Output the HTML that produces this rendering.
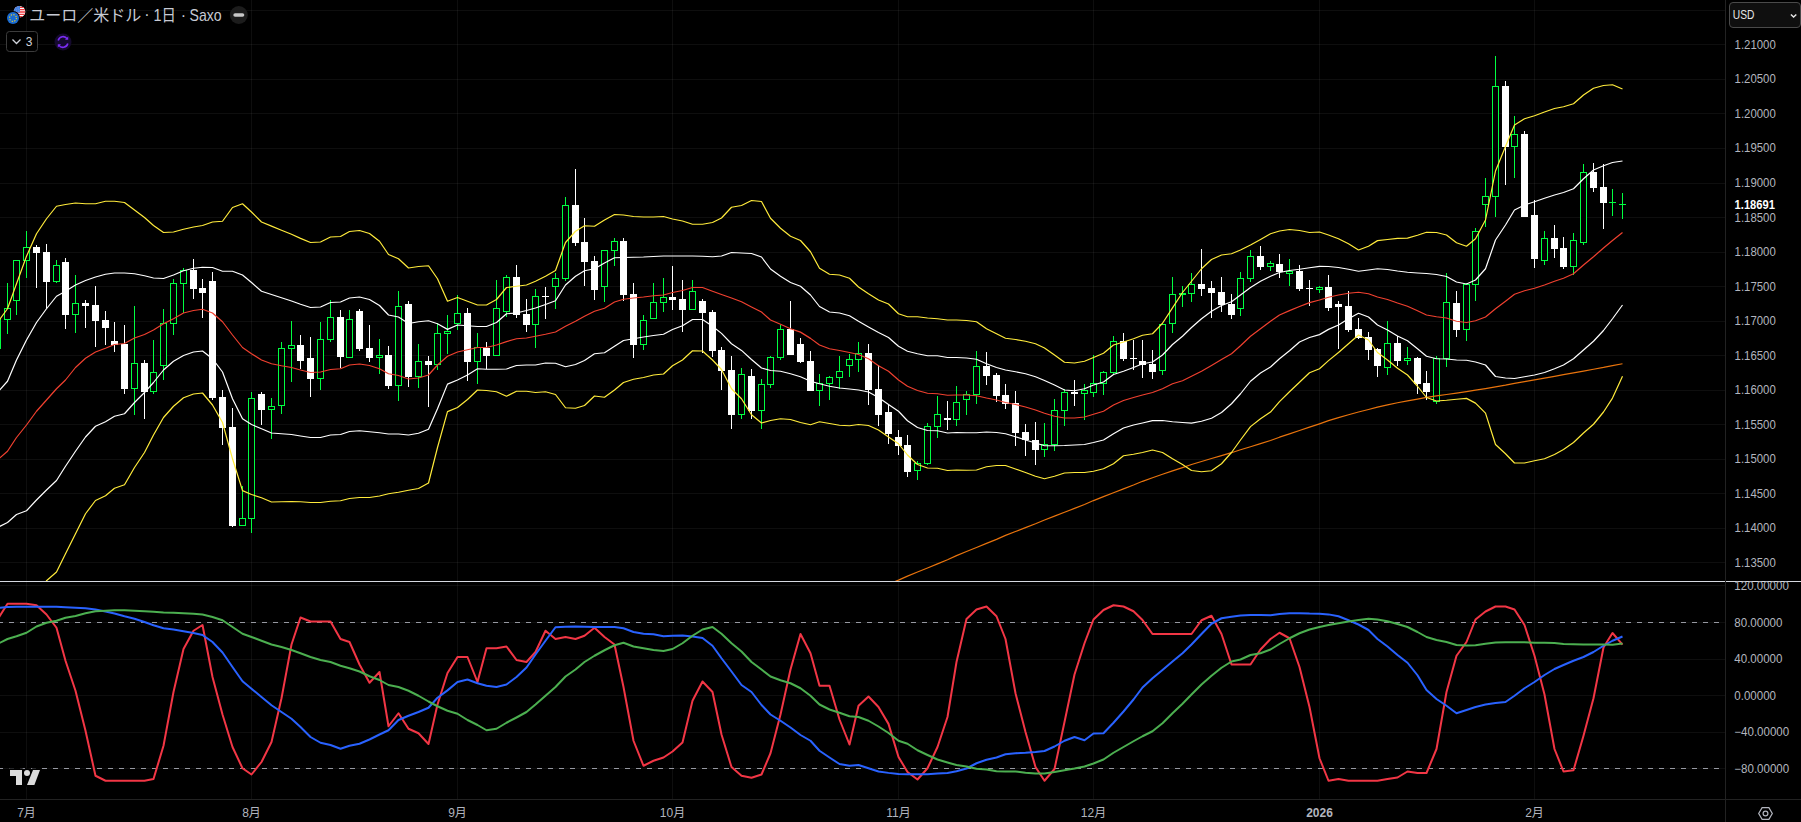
<!DOCTYPE html>
<html lang="ja"><head><meta charset="utf-8"><title>EURUSD</title>
<style>
html,body{margin:0;padding:0;background:#000;}
body{width:1801px;height:822px;overflow:hidden;position:relative;font-family:"Liberation Sans","Noto Sans CJK JP",sans-serif;}
svg{position:absolute;left:0;top:0;}
text{font-family:"Liberation Sans","Noto Sans CJK JP",sans-serif;}
</style></head><body>
<svg width="1801" height="822" viewBox="0 0 1801 822">
<defs>
<clipPath id="cm"><rect x="0" y="0" width="1725" height="581"/></clipPath>
<clipPath id="ci"><rect x="0" y="582" width="1725" height="217"/></clipPath>
</defs>
<rect width="1801" height="822" fill="#000"/>

<g shape-rendering="crispEdges" stroke="rgba(255,255,255,0.055)" stroke-width="1">
<line x1="0" y1="10.5" x2="1725" y2="10.5"/>
<line x1="0" y1="44.5" x2="1725" y2="44.5"/>
<line x1="0" y1="79.5" x2="1725" y2="79.5"/>
<line x1="0" y1="113.5" x2="1725" y2="113.5"/>
<line x1="0" y1="148.5" x2="1725" y2="148.5"/>
<line x1="0" y1="183.5" x2="1725" y2="183.5"/>
<line x1="0" y1="217.5" x2="1725" y2="217.5"/>
<line x1="0" y1="252.5" x2="1725" y2="252.5"/>
<line x1="0" y1="286.5" x2="1725" y2="286.5"/>
<line x1="0" y1="321.5" x2="1725" y2="321.5"/>
<line x1="0" y1="355.5" x2="1725" y2="355.5"/>
<line x1="0" y1="390.5" x2="1725" y2="390.5"/>
<line x1="0" y1="424.5" x2="1725" y2="424.5"/>
<line x1="0" y1="459.5" x2="1725" y2="459.5"/>
<line x1="0" y1="493.5" x2="1725" y2="493.5"/>
<line x1="0" y1="528.5" x2="1725" y2="528.5"/>
<line x1="0" y1="562.5" x2="1725" y2="562.5"/>
<line x1="26.5" y1="0" x2="26.5" y2="799"/>
<line x1="251.5" y1="0" x2="251.5" y2="799"/>
<line x1="457.5" y1="0" x2="457.5" y2="799"/>
<line x1="672.5" y1="0" x2="672.5" y2="799"/>
<line x1="898.5" y1="0" x2="898.5" y2="799"/>
<line x1="1093.5" y1="0" x2="1093.5" y2="799"/>
<line x1="1319.5" y1="0" x2="1319.5" y2="799"/>
<line x1="1534.5" y1="0" x2="1534.5" y2="799"/>
<line x1="0" y1="585.5" x2="1725" y2="585.5"/>
<line x1="0" y1="622.5" x2="1725" y2="622.5"/>
<line x1="0" y1="659.5" x2="1725" y2="659.5"/>
<line x1="0" y1="695.5" x2="1725" y2="695.5"/>
<line x1="0" y1="732.5" x2="1725" y2="732.5"/>
<line x1="0" y1="768.5" x2="1725" y2="768.5"/>
</g>
<g clip-path="url(#cm)" shape-rendering="crispEdges">
<rect x="-6.0" y="319" width="7" height="30" fill="#00ff41"/>
<rect x="-5.0" y="320" width="5" height="28" fill="#000"/>
<rect x="7.0" y="283" width="1" height="25" fill="#00ff41"/>
<rect x="7.0" y="320" width="1" height="14" fill="#00ff41"/>
<rect x="4.0" y="308" width="7" height="12" fill="#00ff41"/>
<rect x="5.0" y="309" width="5" height="10" fill="#000"/>
<rect x="16.0" y="301" width="1" height="14" fill="#00ff41"/>
<rect x="13.0" y="260" width="7" height="41" fill="#00ff41"/>
<rect x="14.0" y="261" width="5" height="39" fill="#000"/>
<rect x="26.0" y="231" width="1" height="16" fill="#00ff41"/>
<rect x="26.0" y="261" width="1" height="17" fill="#00ff41"/>
<rect x="23.0" y="247" width="7" height="14" fill="#00ff41"/>
<rect x="24.0" y="248" width="5" height="12" fill="#000"/>
<rect x="36.0" y="245" width="1" height="43" fill="#ffffff"/>
<rect x="33.0" y="247" width="7" height="6" fill="#ffffff"/>
<rect x="46.0" y="244" width="1" height="65" fill="#ffffff"/>
<rect x="43.0" y="252" width="7" height="30" fill="#ffffff"/>
<rect x="56.0" y="260" width="1" height="5" fill="#00ff41"/>
<rect x="56.0" y="282" width="1" height="1" fill="#00ff41"/>
<rect x="53.0" y="265" width="7" height="17" fill="#00ff41"/>
<rect x="54.0" y="266" width="5" height="15" fill="#000"/>
<rect x="65.0" y="258" width="1" height="71" fill="#ffffff"/>
<rect x="62.0" y="262" width="7" height="53" fill="#ffffff"/>
<rect x="75.0" y="275" width="1" height="28" fill="#00ff41"/>
<rect x="75.0" y="315" width="1" height="18" fill="#00ff41"/>
<rect x="72.0" y="303" width="7" height="12" fill="#00ff41"/>
<rect x="73.0" y="304" width="5" height="10" fill="#000"/>
<rect x="85.0" y="300" width="1" height="28" fill="#ffffff"/>
<rect x="82.0" y="303" width="7" height="3" fill="#ffffff"/>
<rect x="95.0" y="286" width="1" height="61" fill="#ffffff"/>
<rect x="92.0" y="305" width="7" height="16" fill="#ffffff"/>
<rect x="105.0" y="311" width="1" height="34" fill="#ffffff"/>
<rect x="102.0" y="320" width="7" height="8" fill="#ffffff"/>
<rect x="114.0" y="322" width="1" height="30" fill="#ffffff"/>
<rect x="111.0" y="341" width="7" height="4" fill="#ffffff"/>
<rect x="124.0" y="325" width="1" height="69" fill="#ffffff"/>
<rect x="121.0" y="344" width="7" height="45" fill="#ffffff"/>
<rect x="134.0" y="306" width="1" height="57" fill="#00ff41"/>
<rect x="134.0" y="389" width="1" height="26" fill="#00ff41"/>
<rect x="131.0" y="363" width="7" height="26" fill="#00ff41"/>
<rect x="132.0" y="364" width="5" height="24" fill="#000"/>
<rect x="144.0" y="360" width="1" height="59" fill="#ffffff"/>
<rect x="141.0" y="363" width="7" height="29" fill="#ffffff"/>
<rect x="153.0" y="340" width="1" height="32" fill="#00ff41"/>
<rect x="153.0" y="392" width="1" height="2" fill="#00ff41"/>
<rect x="150.0" y="372" width="7" height="20" fill="#00ff41"/>
<rect x="151.0" y="373" width="5" height="18" fill="#000"/>
<rect x="163.0" y="309" width="1" height="14" fill="#00ff41"/>
<rect x="163.0" y="366" width="1" height="14" fill="#00ff41"/>
<rect x="160.0" y="323" width="7" height="43" fill="#00ff41"/>
<rect x="161.0" y="324" width="5" height="41" fill="#000"/>
<rect x="173.0" y="279" width="1" height="4" fill="#00ff41"/>
<rect x="173.0" y="324" width="1" height="11" fill="#00ff41"/>
<rect x="170.0" y="283" width="7" height="41" fill="#00ff41"/>
<rect x="171.0" y="284" width="5" height="39" fill="#000"/>
<rect x="183.0" y="268" width="1" height="2" fill="#00ff41"/>
<rect x="183.0" y="284" width="1" height="29" fill="#00ff41"/>
<rect x="180.0" y="270" width="7" height="14" fill="#00ff41"/>
<rect x="181.0" y="271" width="5" height="12" fill="#000"/>
<rect x="193.0" y="259" width="1" height="40" fill="#ffffff"/>
<rect x="190.0" y="270" width="7" height="19" fill="#ffffff"/>
<rect x="202.0" y="279" width="1" height="39" fill="#ffffff"/>
<rect x="199.0" y="288" width="7" height="5" fill="#ffffff"/>
<rect x="212.0" y="272" width="1" height="128" fill="#ffffff"/>
<rect x="209.0" y="281" width="7" height="117" fill="#ffffff"/>
<rect x="222.0" y="390" width="1" height="55" fill="#ffffff"/>
<rect x="219.0" y="397" width="7" height="31" fill="#ffffff"/>
<rect x="232.0" y="408" width="1" height="119" fill="#ffffff"/>
<rect x="229.0" y="427" width="7" height="99" fill="#ffffff"/>
<rect x="242.0" y="486" width="1" height="32" fill="#00ff41"/>
<rect x="239.0" y="518" width="7" height="8" fill="#00ff41"/>
<rect x="240.0" y="519" width="5" height="6" fill="#000"/>
<rect x="251.0" y="392" width="1" height="6" fill="#00ff41"/>
<rect x="251.0" y="519" width="1" height="14" fill="#00ff41"/>
<rect x="248.0" y="398" width="7" height="121" fill="#00ff41"/>
<rect x="249.0" y="399" width="5" height="119" fill="#000"/>
<rect x="261.0" y="392" width="1" height="33" fill="#ffffff"/>
<rect x="258.0" y="394" width="7" height="16" fill="#ffffff"/>
<rect x="271.0" y="398" width="1" height="8" fill="#00ff41"/>
<rect x="271.0" y="410" width="1" height="29" fill="#00ff41"/>
<rect x="268.0" y="406" width="7" height="4" fill="#00ff41"/>
<rect x="269.0" y="407" width="5" height="2" fill="#000"/>
<rect x="281.0" y="342" width="1" height="6" fill="#00ff41"/>
<rect x="281.0" y="406" width="1" height="8" fill="#00ff41"/>
<rect x="278.0" y="348" width="7" height="58" fill="#00ff41"/>
<rect x="279.0" y="349" width="5" height="56" fill="#000"/>
<rect x="291.0" y="321" width="1" height="24" fill="#00ff41"/>
<rect x="291.0" y="349" width="1" height="33" fill="#00ff41"/>
<rect x="288.0" y="345" width="7" height="4" fill="#00ff41"/>
<rect x="289.0" y="346" width="5" height="2" fill="#000"/>
<rect x="300.0" y="335" width="1" height="34" fill="#ffffff"/>
<rect x="297.0" y="345" width="7" height="16" fill="#ffffff"/>
<rect x="310.0" y="337" width="1" height="60" fill="#ffffff"/>
<rect x="307.0" y="358" width="7" height="21" fill="#ffffff"/>
<rect x="320.0" y="322" width="1" height="17" fill="#00ff41"/>
<rect x="320.0" y="379" width="1" height="11" fill="#00ff41"/>
<rect x="317.0" y="339" width="7" height="40" fill="#00ff41"/>
<rect x="318.0" y="340" width="5" height="38" fill="#000"/>
<rect x="330.0" y="300" width="1" height="17" fill="#00ff41"/>
<rect x="330.0" y="340" width="1" height="2" fill="#00ff41"/>
<rect x="327.0" y="317" width="7" height="23" fill="#00ff41"/>
<rect x="328.0" y="318" width="5" height="21" fill="#000"/>
<rect x="340.0" y="310" width="1" height="58" fill="#ffffff"/>
<rect x="337.0" y="317" width="7" height="40" fill="#ffffff"/>
<rect x="349.0" y="310" width="1" height="9" fill="#00ff41"/>
<rect x="346.0" y="319" width="7" height="39" fill="#00ff41"/>
<rect x="347.0" y="320" width="5" height="37" fill="#000"/>
<rect x="359.0" y="309" width="1" height="42" fill="#ffffff"/>
<rect x="356.0" y="311" width="7" height="38" fill="#ffffff"/>
<rect x="369.0" y="325" width="1" height="37" fill="#ffffff"/>
<rect x="366.0" y="348" width="7" height="10" fill="#ffffff"/>
<rect x="379.0" y="339" width="1" height="16" fill="#00ff41"/>
<rect x="379.0" y="358" width="1" height="16" fill="#00ff41"/>
<rect x="376.0" y="355" width="7" height="3" fill="#00ff41"/>
<rect x="377.0" y="356" width="5" height="1" fill="#000"/>
<rect x="388.0" y="346" width="1" height="43" fill="#ffffff"/>
<rect x="385.0" y="355" width="7" height="31" fill="#ffffff"/>
<rect x="398.0" y="291" width="1" height="15" fill="#00ff41"/>
<rect x="398.0" y="386" width="1" height="15" fill="#00ff41"/>
<rect x="395.0" y="306" width="7" height="80" fill="#00ff41"/>
<rect x="396.0" y="307" width="5" height="78" fill="#000"/>
<rect x="408.0" y="301" width="1" height="86" fill="#ffffff"/>
<rect x="405.0" y="304" width="7" height="73" fill="#ffffff"/>
<rect x="418.0" y="344" width="1" height="17" fill="#00ff41"/>
<rect x="418.0" y="377" width="1" height="11" fill="#00ff41"/>
<rect x="415.0" y="361" width="7" height="16" fill="#00ff41"/>
<rect x="416.0" y="362" width="5" height="14" fill="#000"/>
<rect x="428.0" y="356" width="1" height="51" fill="#ffffff"/>
<rect x="425.0" y="361" width="7" height="4" fill="#ffffff"/>
<rect x="437.0" y="323" width="1" height="10" fill="#00ff41"/>
<rect x="437.0" y="365" width="1" height="5" fill="#00ff41"/>
<rect x="434.0" y="333" width="7" height="32" fill="#00ff41"/>
<rect x="435.0" y="334" width="5" height="30" fill="#000"/>
<rect x="447.0" y="315" width="1" height="16" fill="#00ff41"/>
<rect x="447.0" y="334" width="1" height="20" fill="#00ff41"/>
<rect x="444.0" y="331" width="7" height="3" fill="#00ff41"/>
<rect x="445.0" y="332" width="5" height="1" fill="#000"/>
<rect x="457.0" y="295" width="1" height="18" fill="#00ff41"/>
<rect x="457.0" y="324" width="1" height="6" fill="#00ff41"/>
<rect x="454.0" y="313" width="7" height="11" fill="#00ff41"/>
<rect x="455.0" y="314" width="5" height="9" fill="#000"/>
<rect x="467.0" y="308" width="1" height="73" fill="#ffffff"/>
<rect x="464.0" y="313" width="7" height="49" fill="#ffffff"/>
<rect x="477.0" y="333" width="1" height="14" fill="#00ff41"/>
<rect x="477.0" y="362" width="1" height="22" fill="#00ff41"/>
<rect x="474.0" y="347" width="7" height="15" fill="#00ff41"/>
<rect x="475.0" y="348" width="5" height="13" fill="#000"/>
<rect x="486.0" y="342" width="1" height="27" fill="#ffffff"/>
<rect x="483.0" y="348" width="7" height="8" fill="#ffffff"/>
<rect x="496.0" y="280" width="1" height="28" fill="#00ff41"/>
<rect x="493.0" y="308" width="7" height="48" fill="#00ff41"/>
<rect x="494.0" y="309" width="5" height="46" fill="#000"/>
<rect x="506.0" y="275" width="1" height="2" fill="#00ff41"/>
<rect x="506.0" y="312" width="1" height="5" fill="#00ff41"/>
<rect x="503.0" y="277" width="7" height="35" fill="#00ff41"/>
<rect x="504.0" y="278" width="5" height="33" fill="#000"/>
<rect x="516.0" y="265" width="1" height="53" fill="#ffffff"/>
<rect x="513.0" y="277" width="7" height="38" fill="#ffffff"/>
<rect x="526.0" y="299" width="1" height="33" fill="#ffffff"/>
<rect x="523.0" y="314" width="7" height="11" fill="#ffffff"/>
<rect x="535.0" y="289" width="1" height="7" fill="#00ff41"/>
<rect x="535.0" y="325" width="1" height="23" fill="#00ff41"/>
<rect x="532.0" y="296" width="7" height="29" fill="#00ff41"/>
<rect x="533.0" y="297" width="5" height="27" fill="#000"/>
<rect x="545.0" y="287" width="1" height="32" fill="#ffffff"/>
<rect x="542.0" y="296" width="7" height="1" fill="#ffffff"/>
<rect x="555.0" y="273" width="1" height="5" fill="#00ff41"/>
<rect x="555.0" y="287" width="1" height="22" fill="#00ff41"/>
<rect x="552.0" y="278" width="7" height="9" fill="#00ff41"/>
<rect x="553.0" y="279" width="5" height="7" fill="#000"/>
<rect x="565.0" y="197" width="1" height="8" fill="#00ff41"/>
<rect x="565.0" y="279" width="1" height="2" fill="#00ff41"/>
<rect x="562.0" y="205" width="7" height="74" fill="#00ff41"/>
<rect x="563.0" y="206" width="5" height="72" fill="#000"/>
<rect x="575.0" y="169" width="1" height="77" fill="#ffffff"/>
<rect x="572.0" y="205" width="7" height="38" fill="#ffffff"/>
<rect x="584.0" y="218" width="1" height="68" fill="#ffffff"/>
<rect x="581.0" y="242" width="7" height="20" fill="#ffffff"/>
<rect x="594.0" y="256" width="1" height="44" fill="#ffffff"/>
<rect x="591.0" y="261" width="7" height="29" fill="#ffffff"/>
<rect x="604.0" y="287" width="1" height="15" fill="#00ff41"/>
<rect x="601.0" y="250" width="7" height="37" fill="#00ff41"/>
<rect x="602.0" y="251" width="5" height="35" fill="#000"/>
<rect x="614.0" y="238" width="1" height="3" fill="#00ff41"/>
<rect x="614.0" y="251" width="1" height="15" fill="#00ff41"/>
<rect x="611.0" y="241" width="7" height="10" fill="#00ff41"/>
<rect x="612.0" y="242" width="5" height="8" fill="#000"/>
<rect x="623.0" y="238" width="1" height="63" fill="#ffffff"/>
<rect x="620.0" y="241" width="7" height="54" fill="#ffffff"/>
<rect x="633.0" y="283" width="1" height="75" fill="#ffffff"/>
<rect x="630.0" y="294" width="7" height="51" fill="#ffffff"/>
<rect x="643.0" y="315" width="1" height="5" fill="#00ff41"/>
<rect x="643.0" y="345" width="1" height="5" fill="#00ff41"/>
<rect x="640.0" y="320" width="7" height="25" fill="#00ff41"/>
<rect x="641.0" y="321" width="5" height="23" fill="#000"/>
<rect x="653.0" y="283" width="1" height="19" fill="#00ff41"/>
<rect x="650.0" y="302" width="7" height="17" fill="#00ff41"/>
<rect x="651.0" y="303" width="5" height="15" fill="#000"/>
<rect x="663.0" y="278" width="1" height="19" fill="#00ff41"/>
<rect x="663.0" y="303" width="1" height="9" fill="#00ff41"/>
<rect x="660.0" y="297" width="7" height="6" fill="#00ff41"/>
<rect x="661.0" y="298" width="5" height="4" fill="#000"/>
<rect x="672.0" y="266" width="1" height="44" fill="#ffffff"/>
<rect x="669.0" y="297" width="7" height="3" fill="#ffffff"/>
<rect x="682.0" y="280" width="1" height="52" fill="#ffffff"/>
<rect x="679.0" y="299" width="7" height="11" fill="#ffffff"/>
<rect x="692.0" y="280" width="1" height="11" fill="#00ff41"/>
<rect x="689.0" y="291" width="7" height="19" fill="#00ff41"/>
<rect x="690.0" y="292" width="5" height="17" fill="#000"/>
<rect x="702.0" y="299" width="1" height="54" fill="#ffffff"/>
<rect x="699.0" y="301" width="7" height="12" fill="#ffffff"/>
<rect x="712.0" y="310" width="1" height="47" fill="#ffffff"/>
<rect x="709.0" y="312" width="7" height="39" fill="#ffffff"/>
<rect x="721.0" y="347" width="1" height="43" fill="#ffffff"/>
<rect x="718.0" y="350" width="7" height="21" fill="#ffffff"/>
<rect x="731.0" y="356" width="1" height="73" fill="#ffffff"/>
<rect x="728.0" y="370" width="7" height="45" fill="#ffffff"/>
<rect x="741.0" y="368" width="1" height="6" fill="#00ff41"/>
<rect x="741.0" y="415" width="1" height="4" fill="#00ff41"/>
<rect x="738.0" y="374" width="7" height="41" fill="#00ff41"/>
<rect x="739.0" y="375" width="5" height="39" fill="#000"/>
<rect x="751.0" y="369" width="1" height="50" fill="#ffffff"/>
<rect x="748.0" y="376" width="7" height="35" fill="#ffffff"/>
<rect x="761.0" y="379" width="1" height="5" fill="#00ff41"/>
<rect x="761.0" y="411" width="1" height="18" fill="#00ff41"/>
<rect x="758.0" y="384" width="7" height="27" fill="#00ff41"/>
<rect x="759.0" y="385" width="5" height="25" fill="#000"/>
<rect x="770.0" y="356" width="1" height="1" fill="#00ff41"/>
<rect x="770.0" y="385" width="1" height="3" fill="#00ff41"/>
<rect x="767.0" y="357" width="7" height="28" fill="#00ff41"/>
<rect x="768.0" y="358" width="5" height="26" fill="#000"/>
<rect x="780.0" y="325" width="1" height="4" fill="#00ff41"/>
<rect x="780.0" y="358" width="1" height="2" fill="#00ff41"/>
<rect x="777.0" y="329" width="7" height="29" fill="#00ff41"/>
<rect x="778.0" y="330" width="5" height="27" fill="#000"/>
<rect x="790.0" y="301" width="1" height="54" fill="#ffffff"/>
<rect x="787.0" y="329" width="7" height="26" fill="#ffffff"/>
<rect x="800.0" y="338" width="1" height="25" fill="#ffffff"/>
<rect x="797.0" y="344" width="7" height="18" fill="#ffffff"/>
<rect x="810.0" y="351" width="1" height="40" fill="#ffffff"/>
<rect x="807.0" y="361" width="7" height="30" fill="#ffffff"/>
<rect x="819.0" y="374" width="1" height="9" fill="#00ff41"/>
<rect x="819.0" y="391" width="1" height="15" fill="#00ff41"/>
<rect x="816.0" y="383" width="7" height="8" fill="#00ff41"/>
<rect x="817.0" y="384" width="5" height="6" fill="#000"/>
<rect x="829.0" y="376" width="1" height="1" fill="#00ff41"/>
<rect x="829.0" y="384" width="1" height="16" fill="#00ff41"/>
<rect x="826.0" y="377" width="7" height="7" fill="#00ff41"/>
<rect x="827.0" y="378" width="5" height="5" fill="#000"/>
<rect x="839.0" y="356" width="1" height="15" fill="#00ff41"/>
<rect x="839.0" y="378" width="1" height="11" fill="#00ff41"/>
<rect x="836.0" y="371" width="7" height="7" fill="#00ff41"/>
<rect x="837.0" y="372" width="5" height="5" fill="#000"/>
<rect x="849.0" y="354" width="1" height="5" fill="#00ff41"/>
<rect x="849.0" y="366" width="1" height="11" fill="#00ff41"/>
<rect x="846.0" y="359" width="7" height="7" fill="#00ff41"/>
<rect x="847.0" y="360" width="5" height="5" fill="#000"/>
<rect x="858.0" y="342" width="1" height="11" fill="#00ff41"/>
<rect x="858.0" y="360" width="1" height="12" fill="#00ff41"/>
<rect x="855.0" y="353" width="7" height="7" fill="#00ff41"/>
<rect x="856.0" y="354" width="5" height="5" fill="#000"/>
<rect x="868.0" y="344" width="1" height="61" fill="#ffffff"/>
<rect x="865.0" y="353" width="7" height="37" fill="#ffffff"/>
<rect x="878.0" y="365" width="1" height="61" fill="#ffffff"/>
<rect x="875.0" y="389" width="7" height="26" fill="#ffffff"/>
<rect x="888.0" y="405" width="1" height="39" fill="#ffffff"/>
<rect x="885.0" y="412" width="7" height="22" fill="#ffffff"/>
<rect x="898.0" y="430" width="1" height="25" fill="#ffffff"/>
<rect x="895.0" y="437" width="7" height="9" fill="#ffffff"/>
<rect x="907.0" y="435" width="1" height="42" fill="#ffffff"/>
<rect x="904.0" y="445" width="7" height="27" fill="#ffffff"/>
<rect x="917.0" y="461" width="1" height="2" fill="#00ff41"/>
<rect x="917.0" y="471" width="1" height="9" fill="#00ff41"/>
<rect x="914.0" y="463" width="7" height="8" fill="#00ff41"/>
<rect x="915.0" y="464" width="5" height="6" fill="#000"/>
<rect x="927.0" y="423" width="1" height="3" fill="#00ff41"/>
<rect x="927.0" y="464" width="1" height="1" fill="#00ff41"/>
<rect x="924.0" y="426" width="7" height="38" fill="#00ff41"/>
<rect x="925.0" y="427" width="5" height="36" fill="#000"/>
<rect x="937.0" y="396" width="1" height="18" fill="#00ff41"/>
<rect x="937.0" y="427" width="1" height="11" fill="#00ff41"/>
<rect x="934.0" y="414" width="7" height="13" fill="#00ff41"/>
<rect x="935.0" y="415" width="5" height="11" fill="#000"/>
<rect x="947.0" y="401" width="1" height="29" fill="#ffffff"/>
<rect x="944.0" y="418" width="7" height="2" fill="#ffffff"/>
<rect x="956.0" y="386" width="1" height="16" fill="#00ff41"/>
<rect x="956.0" y="420" width="1" height="6" fill="#00ff41"/>
<rect x="953.0" y="402" width="7" height="18" fill="#00ff41"/>
<rect x="954.0" y="403" width="5" height="16" fill="#000"/>
<rect x="966.0" y="391" width="1" height="3" fill="#00ff41"/>
<rect x="966.0" y="400" width="1" height="15" fill="#00ff41"/>
<rect x="963.0" y="394" width="7" height="6" fill="#00ff41"/>
<rect x="964.0" y="395" width="5" height="4" fill="#000"/>
<rect x="976.0" y="351" width="1" height="15" fill="#00ff41"/>
<rect x="976.0" y="395" width="1" height="9" fill="#00ff41"/>
<rect x="973.0" y="366" width="7" height="29" fill="#00ff41"/>
<rect x="974.0" y="367" width="5" height="27" fill="#000"/>
<rect x="986.0" y="352" width="1" height="33" fill="#ffffff"/>
<rect x="983.0" y="366" width="7" height="10" fill="#ffffff"/>
<rect x="996.0" y="373" width="1" height="29" fill="#ffffff"/>
<rect x="993.0" y="375" width="7" height="21" fill="#ffffff"/>
<rect x="1005.0" y="384" width="1" height="25" fill="#ffffff"/>
<rect x="1002.0" y="395" width="7" height="9" fill="#ffffff"/>
<rect x="1015.0" y="391" width="1" height="55" fill="#ffffff"/>
<rect x="1012.0" y="403" width="7" height="30" fill="#ffffff"/>
<rect x="1025.0" y="424" width="1" height="32" fill="#ffffff"/>
<rect x="1022.0" y="432" width="7" height="8" fill="#ffffff"/>
<rect x="1035.0" y="422" width="1" height="43" fill="#ffffff"/>
<rect x="1032.0" y="440" width="7" height="10" fill="#ffffff"/>
<rect x="1044.0" y="423" width="1" height="21" fill="#00ff41"/>
<rect x="1044.0" y="450" width="1" height="7" fill="#00ff41"/>
<rect x="1041.0" y="444" width="7" height="6" fill="#00ff41"/>
<rect x="1042.0" y="445" width="5" height="4" fill="#000"/>
<rect x="1054.0" y="399" width="1" height="11" fill="#00ff41"/>
<rect x="1054.0" y="445" width="1" height="6" fill="#00ff41"/>
<rect x="1051.0" y="410" width="7" height="35" fill="#00ff41"/>
<rect x="1052.0" y="411" width="5" height="33" fill="#000"/>
<rect x="1064.0" y="389" width="1" height="3" fill="#00ff41"/>
<rect x="1064.0" y="411" width="1" height="15" fill="#00ff41"/>
<rect x="1061.0" y="392" width="7" height="19" fill="#00ff41"/>
<rect x="1062.0" y="393" width="5" height="17" fill="#000"/>
<rect x="1074.0" y="380" width="1" height="26" fill="#ffffff"/>
<rect x="1071.0" y="392" width="7" height="2" fill="#ffffff"/>
<rect x="1084.0" y="384" width="1" height="6" fill="#00ff41"/>
<rect x="1084.0" y="394" width="1" height="26" fill="#00ff41"/>
<rect x="1081.0" y="390" width="7" height="4" fill="#00ff41"/>
<rect x="1082.0" y="391" width="5" height="2" fill="#000"/>
<rect x="1093.0" y="355" width="1" height="28" fill="#00ff41"/>
<rect x="1093.0" y="393" width="1" height="4" fill="#00ff41"/>
<rect x="1090.0" y="383" width="7" height="10" fill="#00ff41"/>
<rect x="1091.0" y="384" width="5" height="8" fill="#000"/>
<rect x="1103.0" y="371" width="1" height="1" fill="#00ff41"/>
<rect x="1103.0" y="384" width="1" height="11" fill="#00ff41"/>
<rect x="1100.0" y="372" width="7" height="12" fill="#00ff41"/>
<rect x="1101.0" y="373" width="5" height="10" fill="#000"/>
<rect x="1113.0" y="336" width="1" height="5" fill="#00ff41"/>
<rect x="1113.0" y="373" width="1" height="2" fill="#00ff41"/>
<rect x="1110.0" y="341" width="7" height="32" fill="#00ff41"/>
<rect x="1111.0" y="342" width="5" height="30" fill="#000"/>
<rect x="1123.0" y="333" width="1" height="28" fill="#ffffff"/>
<rect x="1120.0" y="341" width="7" height="18" fill="#ffffff"/>
<rect x="1133.0" y="340" width="1" height="30" fill="#ffffff"/>
<rect x="1130.0" y="358" width="7" height="1" fill="#ffffff"/>
<rect x="1142.0" y="340" width="1" height="38" fill="#ffffff"/>
<rect x="1139.0" y="361" width="7" height="4" fill="#ffffff"/>
<rect x="1152.0" y="350" width="1" height="29" fill="#ffffff"/>
<rect x="1149.0" y="364" width="7" height="8" fill="#ffffff"/>
<rect x="1162.0" y="371" width="1" height="4" fill="#00ff41"/>
<rect x="1159.0" y="324" width="7" height="47" fill="#00ff41"/>
<rect x="1160.0" y="325" width="5" height="45" fill="#000"/>
<rect x="1172.0" y="277" width="1" height="17" fill="#00ff41"/>
<rect x="1172.0" y="324" width="1" height="9" fill="#00ff41"/>
<rect x="1169.0" y="294" width="7" height="30" fill="#00ff41"/>
<rect x="1170.0" y="295" width="5" height="28" fill="#000"/>
<rect x="1182.0" y="286" width="1" height="7" fill="#00ff41"/>
<rect x="1182.0" y="295" width="1" height="12" fill="#00ff41"/>
<rect x="1179.0" y="293" width="7" height="2" fill="#00ff41"/>
<rect x="1191.0" y="273" width="1" height="11" fill="#00ff41"/>
<rect x="1191.0" y="294" width="1" height="8" fill="#00ff41"/>
<rect x="1188.0" y="284" width="7" height="10" fill="#00ff41"/>
<rect x="1189.0" y="285" width="5" height="8" fill="#000"/>
<rect x="1201.0" y="249" width="1" height="47" fill="#ffffff"/>
<rect x="1198.0" y="284" width="7" height="5" fill="#ffffff"/>
<rect x="1211.0" y="281" width="1" height="37" fill="#ffffff"/>
<rect x="1208.0" y="288" width="7" height="5" fill="#ffffff"/>
<rect x="1221.0" y="277" width="1" height="35" fill="#ffffff"/>
<rect x="1218.0" y="292" width="7" height="13" fill="#ffffff"/>
<rect x="1231.0" y="294" width="1" height="25" fill="#ffffff"/>
<rect x="1228.0" y="304" width="7" height="11" fill="#ffffff"/>
<rect x="1240.0" y="272" width="1" height="6" fill="#00ff41"/>
<rect x="1240.0" y="309" width="1" height="7" fill="#00ff41"/>
<rect x="1237.0" y="278" width="7" height="31" fill="#00ff41"/>
<rect x="1238.0" y="279" width="5" height="29" fill="#000"/>
<rect x="1250.0" y="250" width="1" height="6" fill="#00ff41"/>
<rect x="1250.0" y="279" width="1" height="3" fill="#00ff41"/>
<rect x="1247.0" y="256" width="7" height="23" fill="#00ff41"/>
<rect x="1248.0" y="257" width="5" height="21" fill="#000"/>
<rect x="1260.0" y="246" width="1" height="24" fill="#ffffff"/>
<rect x="1257.0" y="256" width="7" height="11" fill="#ffffff"/>
<rect x="1270.0" y="261" width="1" height="2" fill="#00ff41"/>
<rect x="1270.0" y="267" width="1" height="4" fill="#00ff41"/>
<rect x="1267.0" y="263" width="7" height="4" fill="#00ff41"/>
<rect x="1268.0" y="264" width="5" height="2" fill="#000"/>
<rect x="1279.0" y="254" width="1" height="24" fill="#ffffff"/>
<rect x="1276.0" y="264" width="7" height="8" fill="#ffffff"/>
<rect x="1289.0" y="259" width="1" height="12" fill="#00ff41"/>
<rect x="1289.0" y="274" width="1" height="12" fill="#00ff41"/>
<rect x="1286.0" y="271" width="7" height="3" fill="#00ff41"/>
<rect x="1287.0" y="272" width="5" height="1" fill="#000"/>
<rect x="1299.0" y="265" width="1" height="26" fill="#ffffff"/>
<rect x="1296.0" y="271" width="7" height="18" fill="#ffffff"/>
<rect x="1309.0" y="280" width="1" height="26" fill="#ffffff"/>
<rect x="1306.0" y="288" width="7" height="1" fill="#ffffff"/>
<rect x="1319.0" y="286" width="1" height="1" fill="#00ff41"/>
<rect x="1319.0" y="290" width="1" height="3" fill="#00ff41"/>
<rect x="1316.0" y="287" width="7" height="3" fill="#00ff41"/>
<rect x="1317.0" y="288" width="5" height="1" fill="#000"/>
<rect x="1328.0" y="275" width="1" height="36" fill="#ffffff"/>
<rect x="1325.0" y="287" width="7" height="21" fill="#ffffff"/>
<rect x="1338.0" y="301" width="1" height="48" fill="#ffffff"/>
<rect x="1335.0" y="304" width="7" height="3" fill="#ffffff"/>
<rect x="1348.0" y="291" width="1" height="41" fill="#ffffff"/>
<rect x="1345.0" y="306" width="7" height="24" fill="#ffffff"/>
<rect x="1358.0" y="318" width="1" height="21" fill="#ffffff"/>
<rect x="1355.0" y="329" width="7" height="9" fill="#ffffff"/>
<rect x="1368.0" y="332" width="1" height="28" fill="#ffffff"/>
<rect x="1365.0" y="337" width="7" height="13" fill="#ffffff"/>
<rect x="1377.0" y="348" width="1" height="29" fill="#ffffff"/>
<rect x="1374.0" y="349" width="7" height="17" fill="#ffffff"/>
<rect x="1387.0" y="321" width="1" height="22" fill="#00ff41"/>
<rect x="1387.0" y="368" width="1" height="7" fill="#00ff41"/>
<rect x="1384.0" y="343" width="7" height="25" fill="#00ff41"/>
<rect x="1385.0" y="344" width="5" height="23" fill="#000"/>
<rect x="1397.0" y="336" width="1" height="30" fill="#ffffff"/>
<rect x="1394.0" y="343" width="7" height="18" fill="#ffffff"/>
<rect x="1407.0" y="347" width="1" height="11" fill="#00ff41"/>
<rect x="1407.0" y="361" width="1" height="4" fill="#00ff41"/>
<rect x="1404.0" y="358" width="7" height="3" fill="#00ff41"/>
<rect x="1405.0" y="359" width="5" height="1" fill="#000"/>
<rect x="1417.0" y="357" width="1" height="37" fill="#ffffff"/>
<rect x="1414.0" y="358" width="7" height="26" fill="#ffffff"/>
<rect x="1426.0" y="371" width="1" height="29" fill="#ffffff"/>
<rect x="1423.0" y="383" width="7" height="9" fill="#ffffff"/>
<rect x="1436.0" y="356" width="1" height="2" fill="#00ff41"/>
<rect x="1436.0" y="402" width="1" height="2" fill="#00ff41"/>
<rect x="1433.0" y="358" width="7" height="44" fill="#00ff41"/>
<rect x="1434.0" y="359" width="5" height="42" fill="#000"/>
<rect x="1446.0" y="273" width="1" height="29" fill="#00ff41"/>
<rect x="1446.0" y="359" width="1" height="8" fill="#00ff41"/>
<rect x="1443.0" y="302" width="7" height="57" fill="#00ff41"/>
<rect x="1444.0" y="303" width="5" height="55" fill="#000"/>
<rect x="1456.0" y="291" width="1" height="46" fill="#ffffff"/>
<rect x="1453.0" y="303" width="7" height="27" fill="#ffffff"/>
<rect x="1466.0" y="283" width="1" height="1" fill="#00ff41"/>
<rect x="1466.0" y="330" width="1" height="11" fill="#00ff41"/>
<rect x="1463.0" y="284" width="7" height="46" fill="#00ff41"/>
<rect x="1464.0" y="285" width="5" height="44" fill="#000"/>
<rect x="1475.0" y="228" width="1" height="3" fill="#00ff41"/>
<rect x="1475.0" y="285" width="1" height="16" fill="#00ff41"/>
<rect x="1472.0" y="231" width="7" height="54" fill="#00ff41"/>
<rect x="1473.0" y="232" width="5" height="52" fill="#000"/>
<rect x="1485.0" y="178" width="1" height="18" fill="#00ff41"/>
<rect x="1485.0" y="205" width="1" height="22" fill="#00ff41"/>
<rect x="1482.0" y="196" width="7" height="9" fill="#00ff41"/>
<rect x="1483.0" y="197" width="5" height="7" fill="#000"/>
<rect x="1495.0" y="56" width="1" height="30" fill="#00ff41"/>
<rect x="1495.0" y="197" width="1" height="20" fill="#00ff41"/>
<rect x="1492.0" y="86" width="7" height="111" fill="#00ff41"/>
<rect x="1493.0" y="87" width="5" height="109" fill="#000"/>
<rect x="1505.0" y="81" width="1" height="104" fill="#ffffff"/>
<rect x="1502.0" y="86" width="7" height="61" fill="#ffffff"/>
<rect x="1514.0" y="116" width="1" height="18" fill="#00ff41"/>
<rect x="1514.0" y="147" width="1" height="31" fill="#00ff41"/>
<rect x="1511.0" y="134" width="7" height="13" fill="#00ff41"/>
<rect x="1512.0" y="135" width="5" height="11" fill="#000"/>
<rect x="1524.0" y="131" width="1" height="86" fill="#ffffff"/>
<rect x="1521.0" y="134" width="7" height="83" fill="#ffffff"/>
<rect x="1534.0" y="200" width="1" height="68" fill="#ffffff"/>
<rect x="1531.0" y="215" width="7" height="44" fill="#ffffff"/>
<rect x="1544.0" y="231" width="1" height="7" fill="#00ff41"/>
<rect x="1544.0" y="261" width="1" height="4" fill="#00ff41"/>
<rect x="1541.0" y="238" width="7" height="23" fill="#00ff41"/>
<rect x="1542.0" y="239" width="5" height="21" fill="#000"/>
<rect x="1554.0" y="225" width="1" height="33" fill="#ffffff"/>
<rect x="1551.0" y="238" width="7" height="11" fill="#ffffff"/>
<rect x="1563.0" y="237" width="1" height="32" fill="#ffffff"/>
<rect x="1560.0" y="248" width="7" height="19" fill="#ffffff"/>
<rect x="1573.0" y="233" width="1" height="7" fill="#00ff41"/>
<rect x="1573.0" y="267" width="1" height="8" fill="#00ff41"/>
<rect x="1570.0" y="240" width="7" height="27" fill="#00ff41"/>
<rect x="1571.0" y="241" width="5" height="25" fill="#000"/>
<rect x="1583.0" y="164" width="1" height="8" fill="#00ff41"/>
<rect x="1583.0" y="243" width="1" height="2" fill="#00ff41"/>
<rect x="1580.0" y="172" width="7" height="71" fill="#00ff41"/>
<rect x="1581.0" y="173" width="5" height="69" fill="#000"/>
<rect x="1593.0" y="163" width="1" height="29" fill="#ffffff"/>
<rect x="1590.0" y="172" width="7" height="16" fill="#ffffff"/>
<rect x="1603.0" y="164" width="1" height="65" fill="#ffffff"/>
<rect x="1600.0" y="187" width="7" height="16" fill="#ffffff"/>
<rect x="1612.0" y="189" width="1" height="13" fill="#00ff41"/>
<rect x="1612.0" y="203" width="1" height="13" fill="#00ff41"/>
<rect x="1609.0" y="202" width="7" height="1" fill="#00ff41"/>
<rect x="1622.0" y="193" width="1" height="11" fill="#00ff41"/>
<rect x="1622.0" y="205" width="1" height="14" fill="#00ff41"/>
<rect x="1619.0" y="204" width="7" height="1" fill="#00ff41"/>
</g>
<g clip-path="url(#cm)" fill="none" stroke-width="1.2" stroke-linejoin="round" stroke-linecap="butt">
<path d="M878.5 588.29 L888.5 584.20 L898.5 580.15 L907.5 576.10 L917.5 572.03 L927.5 567.96 L937.5 563.86 L947.5 559.76 L956.5 555.65 L966.5 551.54 L976.5 547.44 L986.5 543.37 L996.5 539.36 L1005.5 535.40 L1015.5 531.50 L1025.5 527.62 L1035.5 523.79 L1044.5 519.97 L1054.5 516.14 L1064.5 512.29 L1074.5 508.41 L1084.5 504.49 L1093.5 500.57 L1103.5 496.64 L1113.5 492.73 L1123.5 488.85 L1133.5 485.03 L1142.5 481.32 L1152.5 477.72 L1162.5 474.24 L1172.5 470.88 L1182.5 467.65 L1191.5 464.53 L1201.5 461.50 L1211.5 458.54 L1221.5 455.61 L1231.5 452.70 L1240.5 449.75 L1250.5 446.75 L1260.5 443.65 L1270.5 440.46 L1279.5 437.19 L1289.5 433.84 L1299.5 430.45 L1309.5 427.10 L1319.5 423.81 L1328.5 420.65 L1338.5 417.62 L1348.5 414.73 L1358.5 412.01 L1368.5 409.46 L1377.5 407.07 L1387.5 404.84 L1397.5 402.75 L1407.5 400.82 L1417.5 399.06 L1426.5 397.46 L1436.5 395.95 L1446.5 394.49 L1456.5 393.05 L1466.5 391.60 L1475.5 390.12 L1485.5 388.55 L1495.5 386.88 L1505.5 385.17 L1514.5 383.42 L1524.5 381.66 L1534.5 379.90 L1544.5 378.12 L1554.5 376.34 L1563.5 374.59 L1573.5 372.82 L1583.5 371.04 L1593.5 369.24 L1603.5 367.44 L1612.5 365.61 L1622.5 363.75" stroke="#e8730c"/>
<path d="M-2.5 392.50 L7.5 381.25 L16.5 360.00 L26.5 340.00 L36.5 322.50 L46.5 308.75 L56.5 296.25 L65.5 291.25 L75.5 285.00 L85.5 280.50 L95.5 277.00 L105.5 274.25 L114.5 273.00 L124.5 273.00 L134.5 273.75 L144.5 275.75 L153.5 278.00 L163.5 278.50 L173.5 275.00 L183.5 270.75 L193.5 268.25 L202.5 267.25 L212.5 267.50 L222.5 271.25 L232.5 271.25 L242.5 275.00 L251.5 282.50 L261.5 291.25 L271.5 294.50 L281.5 297.75 L291.5 301.00 L300.5 304.25 L310.5 307.50 L320.5 307.00 L330.5 302.50 L340.5 302.00 L349.5 298.00 L359.5 297.00 L369.5 299.50 L379.5 305.50 L388.5 315.00 L398.5 317.00 L408.5 323.50 L418.5 321.75 L428.5 320.75 L437.5 323.75 L447.5 329.38 L457.5 325.00 L467.5 325.75 L477.5 326.50 L486.5 326.50 L496.5 322.50 L506.5 313.75 L516.5 313.00 L526.5 310.50 L535.5 308.00 L545.5 304.50 L555.5 300.75 L565.5 285.00 L575.5 276.25 L584.5 270.75 L594.5 268.75 L604.5 263.00 L614.5 257.75 L623.5 257.50 L633.5 257.25 L643.5 257.00 L653.5 256.50 L663.5 256.00 L672.5 256.00 L682.5 256.00 L692.5 256.00 L702.5 256.25 L712.5 256.75 L721.5 256.00 L731.5 252.50 L741.5 253.00 L751.5 253.50 L761.5 257.00 L770.5 269.00 L780.5 276.25 L790.5 282.50 L800.5 286.25 L810.5 295.00 L819.5 306.50 L829.5 312.00 L839.5 313.00 L849.5 315.75 L858.5 321.25 L868.5 327.00 L878.5 332.50 L888.5 337.50 L898.5 346.25 L907.5 351.25 L917.5 353.75 L927.5 355.75 L937.5 355.75 L947.5 357.50 L956.5 357.50 L966.5 358.00 L976.5 359.25 L986.5 363.75 L996.5 367.50 L1005.5 370.00 L1015.5 371.75 L1025.5 373.75 L1035.5 376.75 L1044.5 380.50 L1054.5 385.00 L1064.5 390.00 L1074.5 390.75 L1084.5 388.75 L1093.5 385.00 L1103.5 382.00 L1113.5 374.50 L1123.5 371.25 L1133.5 367.50 L1142.5 363.75 L1152.5 362.00 L1162.5 355.00 L1172.5 344.50 L1182.5 336.25 L1191.5 327.50 L1201.5 318.75 L1211.5 311.25 L1221.5 305.50 L1231.5 301.75 L1240.5 295.00 L1250.5 287.50 L1260.5 281.25 L1270.5 276.25 L1279.5 272.50 L1289.5 270.50 L1299.5 269.25 L1309.5 267.75 L1319.5 266.38 L1328.5 266.50 L1338.5 267.50 L1348.5 269.25 L1358.5 271.25 L1368.5 270.00 L1377.5 268.75 L1387.5 269.50 L1397.5 271.00 L1407.5 272.25 L1417.5 273.00 L1426.5 273.50 L1436.5 274.50 L1446.5 276.50 L1456.5 282.00 L1466.5 284.00 L1475.5 280.00 L1485.5 268.75 L1495.5 240.00 L1505.5 225.00 L1514.5 210.00 L1524.5 205.00 L1534.5 201.75 L1544.5 198.25 L1554.5 195.00 L1563.5 192.50 L1573.5 188.75 L1583.5 178.75 L1593.5 170.00 L1603.5 165.75 L1612.5 162.50 L1622.5 161.00" stroke="#ffffff"/>
<path d="M-2.5 527.50 L7.5 522.50 L16.5 514.50 L26.5 510.75 L36.5 500.00 L46.5 490.00 L56.5 480.50 L65.5 466.25 L75.5 451.25 L85.5 437.00 L95.5 426.25 L105.5 421.75 L114.5 416.25 L124.5 413.75 L134.5 402.50 L144.5 392.50 L153.5 382.50 L163.5 370.00 L173.5 361.25 L183.5 355.50 L193.5 352.00 L202.5 351.00 L212.5 358.75 L222.5 372.00 L232.5 398.75 L242.5 418.75 L251.5 424.50 L261.5 428.75 L271.5 433.00 L281.5 433.75 L291.5 434.50 L300.5 436.00 L310.5 437.50 L320.5 437.50 L330.5 435.00 L340.5 434.50 L349.5 431.50 L359.5 430.75 L369.5 431.75 L379.5 432.75 L388.5 434.00 L398.5 434.00 L408.5 435.00 L418.5 433.25 L428.5 429.25 L437.5 408.80 L447.5 384.12 L457.5 380.00 L467.5 375.00 L477.5 368.75 L486.5 369.25 L496.5 369.25 L506.5 369.00 L516.5 365.50 L526.5 365.00 L535.5 365.00 L545.5 363.00 L555.5 363.25 L565.5 366.75 L575.5 364.50 L584.5 360.50 L594.5 353.75 L604.5 352.75 L614.5 346.25 L623.5 340.50 L633.5 338.75 L643.5 337.00 L653.5 335.50 L663.5 334.25 L672.5 329.50 L682.5 325.75 L692.5 319.50 L702.5 319.50 L712.5 326.25 L721.5 333.38 L731.5 343.75 L741.5 350.38 L751.5 359.50 L761.5 368.00 L770.5 370.50 L780.5 371.25 L790.5 373.75 L800.5 376.75 L810.5 381.25 L819.5 383.75 L829.5 386.25 L839.5 388.00 L849.5 389.00 L858.5 390.00 L868.5 392.00 L878.5 397.50 L888.5 404.42 L898.5 411.25 L907.5 420.75 L917.5 427.50 L927.5 430.50 L937.5 430.75 L947.5 433.00 L956.5 432.50 L966.5 432.75 L976.5 432.75 L986.5 432.00 L996.5 432.50 L1005.5 433.75 L1015.5 436.75 L1025.5 440.00 L1035.5 443.00 L1044.5 445.75 L1054.5 445.75 L1064.5 445.50 L1074.5 445.00 L1084.5 444.50 L1093.5 442.50 L1103.5 440.00 L1113.5 433.75 L1123.5 428.00 L1133.5 425.00 L1142.5 423.00 L1152.5 420.62 L1162.5 420.50 L1172.5 421.75 L1182.5 422.50 L1191.5 423.12 L1201.5 421.25 L1211.5 418.25 L1221.5 412.50 L1231.5 403.75 L1240.5 393.75 L1250.5 381.25 L1260.5 373.00 L1270.5 367.00 L1279.5 358.75 L1289.5 350.75 L1299.5 342.00 L1309.5 337.50 L1319.5 334.62 L1328.5 329.38 L1338.5 325.00 L1348.5 318.75 L1358.5 313.25 L1368.5 317.00 L1377.5 325.00 L1387.5 330.00 L1397.5 336.00 L1407.5 340.75 L1417.5 348.75 L1426.5 356.25 L1436.5 358.75 L1446.5 359.00 L1456.5 360.00 L1466.5 360.25 L1475.5 362.00 L1485.5 365.00 L1495.5 376.50 L1505.5 378.00 L1514.5 378.50 L1524.5 376.75 L1534.5 375.00 L1544.5 372.50 L1554.5 368.75 L1563.5 365.00 L1573.5 358.75 L1583.5 350.00 L1593.5 341.25 L1603.5 330.50 L1612.5 318.75 L1622.5 305.00" stroke="#ffffff"/>
<path d="M-2.5 460.00 L7.5 451.25 L16.5 437.50 L26.5 425.00 L36.5 411.25 L46.5 400.00 L56.5 388.75 L65.5 380.00 L75.5 367.50 L85.5 358.30 L95.5 352.00 L105.5 348.25 L114.5 344.50 L124.5 343.50 L134.5 338.00 L144.5 334.50 L153.5 330.00 L163.5 323.75 L173.5 318.75 L183.5 313.00 L193.5 310.50 L202.5 309.25 L212.5 313.00 L222.5 321.75 L232.5 335.00 L242.5 347.50 L251.5 353.75 L261.5 360.00 L271.5 363.75 L281.5 365.75 L291.5 367.50 L300.5 370.00 L310.5 372.50 L320.5 372.00 L330.5 369.50 L340.5 368.75 L349.5 365.00 L359.5 364.00 L369.5 365.50 L379.5 368.75 L388.5 373.75 L398.5 375.50 L408.5 379.00 L418.5 378.00 L428.5 375.00 L437.5 365.00 L447.5 356.25 L457.5 352.00 L467.5 349.75 L477.5 347.50 L486.5 347.50 L496.5 345.00 L506.5 341.62 L516.5 338.75 L526.5 338.00 L535.5 336.25 L545.5 334.25 L555.5 332.00 L565.5 326.25 L575.5 321.25 L584.5 316.25 L594.5 311.25 L604.5 308.25 L614.5 302.00 L623.5 299.25 L633.5 298.00 L643.5 297.00 L653.5 295.75 L663.5 295.00 L672.5 292.50 L682.5 290.50 L692.5 287.50 L702.5 287.50 L712.5 291.25 L721.5 294.50 L731.5 298.00 L741.5 301.75 L751.5 307.00 L761.5 312.00 L770.5 320.00 L780.5 324.25 L790.5 328.75 L800.5 332.12 L810.5 338.38 L819.5 345.00 L829.5 348.75 L839.5 350.50 L849.5 352.50 L858.5 354.50 L868.5 358.75 L878.5 365.75 L888.5 371.25 L898.5 380.00 L907.5 386.25 L917.5 390.50 L927.5 393.25 L937.5 393.75 L947.5 395.25 L956.5 395.00 L966.5 395.00 L976.5 395.75 L986.5 398.00 L996.5 400.00 L1005.5 402.50 L1015.5 404.50 L1025.5 407.00 L1035.5 410.00 L1044.5 413.25 L1054.5 416.25 L1064.5 418.00 L1074.5 418.00 L1084.5 417.00 L1093.5 414.25 L1103.5 411.25 L1113.5 405.00 L1123.5 400.50 L1133.5 397.50 L1142.5 395.00 L1152.5 392.50 L1162.5 388.75 L1172.5 383.75 L1182.5 380.75 L1191.5 376.25 L1201.5 371.25 L1211.5 365.50 L1221.5 359.50 L1231.5 353.75 L1240.5 345.75 L1250.5 336.25 L1260.5 328.75 L1270.5 321.25 L1279.5 315.00 L1289.5 310.60 L1299.5 306.50 L1309.5 302.62 L1319.5 300.00 L1328.5 297.25 L1338.5 295.00 L1348.5 293.25 L1358.5 292.25 L1368.5 293.75 L1377.5 297.00 L1387.5 299.50 L1397.5 303.00 L1407.5 306.25 L1417.5 310.75 L1426.5 315.00 L1436.5 316.75 L1446.5 318.00 L1456.5 321.25 L1466.5 322.50 L1475.5 320.75 L1485.5 317.00 L1495.5 308.75 L1505.5 301.25 L1514.5 294.25 L1524.5 290.75 L1534.5 288.25 L1544.5 285.00 L1554.5 281.25 L1563.5 278.25 L1573.5 273.75 L1583.5 265.00 L1593.5 256.75 L1603.5 248.00 L1612.5 240.50 L1622.5 232.50" stroke="#f0402f"/>
<path d="M-2.5 322.50 L7.5 308.75 L16.5 283.75 L26.5 256.25 L36.5 233.75 L46.5 218.75 L56.5 206.25 L65.5 204.50 L75.5 203.00 L85.5 203.75 L95.5 203.75 L105.5 201.25 L114.5 201.25 L124.5 202.50 L134.5 210.00 L144.5 217.50 L153.5 225.50 L163.5 232.50 L173.5 232.00 L183.5 229.25 L193.5 227.00 L202.5 225.50 L212.5 222.00 L222.5 221.25 L232.5 207.50 L242.5 203.75 L251.5 212.00 L261.5 222.00 L271.5 226.10 L281.5 230.20 L291.5 234.30 L300.5 238.40 L310.5 242.50 L320.5 242.00 L330.5 237.00 L340.5 236.50 L349.5 231.50 L359.5 230.50 L369.5 233.50 L379.5 241.25 L388.5 254.50 L398.5 258.75 L408.5 268.00 L418.5 266.50 L428.5 265.75 L437.5 278.75 L447.5 301.25 L457.5 297.50 L467.5 301.25 L477.5 305.00 L486.5 305.00 L496.5 299.50 L506.5 287.50 L516.5 286.25 L526.5 285.00 L535.5 281.25 L545.5 276.25 L555.5 270.50 L565.5 242.50 L575.5 231.25 L584.5 225.75 L594.5 226.25 L604.5 220.00 L614.5 214.50 L623.5 215.00 L633.5 216.50 L643.5 217.00 L653.5 217.00 L663.5 216.50 L672.5 219.00 L682.5 221.00 L692.5 224.25 L702.5 224.25 L712.5 222.50 L721.5 218.00 L731.5 207.25 L741.5 205.50 L751.5 200.50 L761.5 201.50 L770.5 218.25 L780.5 228.25 L790.5 236.25 L800.5 240.50 L810.5 251.75 L819.5 268.25 L829.5 274.25 L839.5 275.00 L849.5 278.25 L858.5 287.00 L868.5 293.75 L878.5 300.00 L888.5 304.00 L898.5 313.75 L907.5 316.75 L917.5 316.75 L927.5 318.00 L937.5 318.75 L947.5 320.00 L956.5 320.00 L966.5 320.50 L976.5 321.75 L986.5 328.75 L996.5 333.75 L1005.5 338.25 L1015.5 339.50 L1025.5 341.25 L1035.5 343.75 L1044.5 348.00 L1054.5 355.00 L1064.5 362.25 L1074.5 363.00 L1084.5 361.25 L1093.5 357.50 L1103.5 353.25 L1113.5 345.00 L1123.5 342.00 L1133.5 338.75 L1142.5 335.25 L1152.5 333.75 L1162.5 323.25 L1172.5 307.80 L1182.5 292.50 L1191.5 281.25 L1201.5 268.75 L1211.5 259.50 L1221.5 255.00 L1231.5 253.75 L1240.5 250.00 L1250.5 245.00 L1260.5 239.50 L1270.5 233.75 L1279.5 231.00 L1289.5 229.50 L1299.5 230.50 L1309.5 232.50 L1319.5 232.00 L1328.5 235.00 L1338.5 238.75 L1348.5 243.75 L1358.5 250.00 L1368.5 246.25 L1377.5 240.62 L1387.5 239.50 L1397.5 238.38 L1407.5 238.12 L1417.5 235.25 L1426.5 232.25 L1436.5 232.50 L1446.5 235.00 L1456.5 242.75 L1466.5 246.25 L1475.5 238.75 L1485.5 220.00 L1495.5 171.00 L1505.5 146.50 L1514.5 125.00 L1524.5 118.75 L1534.5 115.75 L1544.5 112.00 L1554.5 108.50 L1563.5 106.75 L1573.5 103.75 L1583.5 95.00 L1593.5 88.25 L1603.5 85.50 L1612.5 84.75 L1622.5 89.00" stroke="#ffeb3b"/>
<path d="M36.5 598.00 L46.5 580.75 L56.5 572.00 L65.5 553.75 L75.5 533.75 L85.5 513.75 L95.5 500.50 L105.5 495.75 L114.5 488.25 L124.5 484.75 L134.5 467.50 L144.5 452.50 L153.5 435.00 L163.5 417.50 L173.5 406.25 L183.5 397.75 L193.5 394.00 L202.5 393.00 L212.5 405.00 L222.5 422.50 L232.5 458.80 L242.5 490.60 L251.5 494.50 L261.5 497.75 L271.5 502.00 L281.5 501.75 L291.5 501.50 L300.5 501.75 L310.5 502.50 L320.5 502.50 L330.5 501.25 L340.5 500.75 L349.5 498.50 L359.5 497.50 L369.5 497.50 L379.5 496.00 L388.5 493.75 L398.5 492.25 L408.5 490.25 L418.5 488.50 L428.5 483.00 L437.5 447.50 L447.5 411.62 L457.5 407.50 L467.5 399.50 L477.5 390.00 L486.5 390.50 L496.5 391.75 L506.5 396.25 L516.5 391.25 L526.5 391.25 L535.5 392.50 L545.5 391.75 L555.5 394.50 L565.5 407.75 L575.5 408.25 L584.5 405.50 L594.5 396.00 L604.5 397.25 L614.5 390.00 L623.5 382.50 L633.5 379.25 L643.5 377.50 L653.5 375.00 L663.5 374.00 L672.5 365.75 L682.5 360.00 L692.5 350.75 L702.5 351.00 L712.5 360.00 L721.5 369.50 L731.5 388.75 L741.5 398.75 L751.5 414.70 L761.5 423.00 L770.5 420.50 L780.5 418.75 L790.5 419.50 L800.5 422.50 L810.5 424.75 L819.5 421.75 L829.5 423.50 L839.5 425.25 L849.5 425.75 L858.5 424.50 L868.5 425.50 L878.5 430.00 L888.5 437.00 L898.5 443.75 L907.5 455.00 L917.5 464.50 L927.5 468.00 L937.5 468.25 L947.5 470.50 L956.5 470.00 L966.5 470.25 L976.5 470.00 L986.5 466.75 L996.5 465.50 L1005.5 465.50 L1015.5 469.00 L1025.5 472.50 L1035.5 476.25 L1044.5 478.75 L1054.5 476.25 L1064.5 473.00 L1074.5 472.50 L1084.5 472.50 L1093.5 471.25 L1103.5 468.75 L1113.5 463.75 L1123.5 455.75 L1133.5 454.25 L1142.5 452.50 L1152.5 450.00 L1162.5 452.50 L1172.5 458.75 L1182.5 464.50 L1191.5 470.50 L1201.5 471.75 L1211.5 470.75 L1221.5 463.75 L1231.5 452.50 L1240.5 440.00 L1250.5 426.62 L1260.5 418.75 L1270.5 412.12 L1279.5 401.62 L1289.5 391.75 L1299.5 382.30 L1309.5 372.75 L1319.5 368.75 L1328.5 360.62 L1338.5 352.50 L1348.5 343.75 L1358.5 335.00 L1368.5 340.00 L1377.5 352.50 L1387.5 360.00 L1397.5 368.25 L1407.5 375.00 L1417.5 386.25 L1426.5 397.50 L1436.5 401.00 L1446.5 400.25 L1456.5 399.25 L1466.5 398.38 L1475.5 403.12 L1485.5 413.12 L1495.5 444.50 L1505.5 453.75 L1514.5 463.00 L1524.5 463.00 L1534.5 460.75 L1544.5 458.75 L1554.5 454.50 L1563.5 449.50 L1573.5 442.50 L1583.5 433.00 L1593.5 424.25 L1603.5 412.00 L1612.5 398.12 L1622.5 376.25" stroke="#ffeb3b"/>
</g>
<rect x="0" y="581" width="1801" height="1" fill="#d6d9e0" shape-rendering="crispEdges"/>
<g shape-rendering="crispEdges" stroke="#9698a1" stroke-width="1" stroke-dasharray="5 6">
<line x1="-2" y1="622.5" x2="1725" y2="622.5"/><line x1="-2" y1="768.5" x2="1725" y2="768.5"/>
</g>
<g clip-path="url(#ci)" fill="none" stroke-width="2" stroke-linejoin="round" stroke-linecap="butt">
<path d="M-2.5 619.50 L7.5 603.75 L16.5 603.75 L26.5 603.75 L36.5 605.25 L46.5 614.50 L56.5 627.75 L65.5 660.75 L75.5 690.75 L85.5 730.75 L95.5 775.75 L105.5 780.75 L114.5 780.75 L124.5 780.75 L134.5 780.75 L144.5 780.75 L153.5 779.00 L163.5 745.75 L173.5 692.00 L183.5 649.00 L193.5 630.75 L202.5 625.00 L212.5 677.00 L222.5 714.50 L232.5 747.00 L242.5 768.25 L251.5 774.50 L261.5 762.00 L271.5 742.00 L281.5 698.25 L291.5 644.50 L300.5 617.50 L310.5 621.50 L320.5 621.50 L330.5 621.50 L340.5 639.00 L349.5 642.00 L359.5 664.50 L369.5 682.75 L379.5 672.00 L388.5 726.25 L398.5 713.25 L408.5 728.75 L418.5 733.25 L428.5 744.00 L437.5 704.50 L447.5 673.00 L457.5 657.00 L467.5 657.00 L477.5 682.00 L486.5 648.25 L496.5 648.25 L506.5 646.50 L516.5 660.00 L526.5 662.00 L535.5 652.00 L545.5 630.75 L555.5 639.00 L565.5 637.00 L575.5 639.00 L584.5 635.75 L594.5 627.75 L604.5 637.00 L614.5 644.50 L623.5 687.00 L633.5 740.75 L643.5 765.75 L653.5 760.75 L663.5 757.50 L672.5 751.50 L682.5 742.50 L692.5 700.75 L702.5 681.50 L712.5 692.00 L721.5 734.50 L731.5 767.00 L741.5 775.75 L751.5 777.75 L761.5 774.50 L770.5 753.25 L780.5 714.50 L790.5 669.50 L800.5 634.00 L810.5 653.25 L819.5 685.75 L829.5 685.75 L839.5 719.50 L849.5 744.50 L858.5 705.75 L868.5 696.50 L878.5 707.00 L888.5 723.88 L898.5 757.00 L907.5 772.00 L917.5 779.50 L927.5 768.25 L937.5 747.00 L947.5 717.00 L956.5 662.00 L966.5 619.00 L976.5 609.50 L986.5 606.50 L996.5 616.25 L1005.5 639.00 L1015.5 693.25 L1025.5 732.00 L1035.5 767.00 L1044.5 780.75 L1054.5 769.00 L1064.5 722.00 L1074.5 674.50 L1084.5 643.25 L1093.5 619.50 L1103.5 610.00 L1113.5 605.25 L1123.5 606.50 L1133.5 611.25 L1142.5 620.00 L1152.5 634.00 L1162.5 634.00 L1172.5 634.00 L1182.5 634.00 L1191.5 634.00 L1201.5 620.25 L1211.5 615.75 L1221.5 634.00 L1231.5 664.50 L1240.5 664.50 L1250.5 664.50 L1260.5 649.50 L1270.5 639.00 L1279.5 632.75 L1289.5 638.25 L1299.5 667.00 L1309.5 707.00 L1319.5 758.25 L1328.5 780.75 L1338.5 779.00 L1348.5 780.75 L1358.5 780.75 L1368.5 780.75 L1377.5 780.75 L1387.5 779.00 L1397.5 777.50 L1407.5 771.50 L1417.5 773.00 L1426.5 773.00 L1436.5 749.00 L1446.5 692.00 L1456.5 655.75 L1466.5 642.00 L1475.5 619.50 L1485.5 611.50 L1495.5 606.50 L1505.5 606.50 L1514.5 609.50 L1524.5 625.00 L1534.5 655.75 L1544.5 694.50 L1554.5 749.00 L1563.5 771.50 L1573.5 770.25 L1583.5 735.75 L1593.5 698.25 L1603.5 647.50 L1612.5 633.00 L1622.5 644.60" stroke="#f23645"/>
<path d="M-2.5 608.00 L7.5 607.00 L16.5 606.75 L26.5 606.75 L36.5 606.75 L46.5 606.75 L56.5 606.75 L65.5 607.25 L75.5 607.75 L85.5 608.25 L95.5 609.50 L105.5 611.50 L114.5 613.50 L124.5 616.25 L134.5 618.75 L144.5 622.00 L153.5 625.25 L163.5 628.25 L173.5 629.50 L183.5 631.25 L193.5 633.00 L202.5 635.00 L212.5 642.00 L222.5 652.50 L232.5 667.00 L242.5 681.25 L251.5 688.75 L261.5 697.00 L271.5 705.25 L281.5 712.00 L291.5 718.75 L300.5 727.00 L310.5 737.00 L320.5 742.75 L330.5 745.00 L340.5 748.75 L349.5 745.75 L359.5 743.75 L369.5 739.50 L379.5 734.50 L388.5 730.25 L398.5 720.00 L408.5 715.75 L418.5 712.00 L428.5 707.75 L437.5 697.75 L447.5 690.38 L457.5 682.00 L467.5 679.50 L477.5 683.25 L486.5 685.75 L496.5 687.00 L506.5 684.50 L516.5 677.00 L526.5 667.50 L535.5 654.50 L545.5 640.75 L555.5 627.25 L565.5 626.75 L575.5 626.50 L584.5 626.75 L594.5 627.00 L604.5 627.00 L614.5 627.00 L623.5 628.25 L633.5 632.00 L643.5 633.75 L653.5 634.25 L663.5 636.25 L672.5 635.75 L682.5 635.50 L692.5 636.50 L702.5 638.00 L712.5 645.75 L721.5 658.25 L731.5 671.50 L741.5 685.00 L751.5 692.00 L761.5 705.00 L770.5 714.50 L780.5 720.75 L790.5 727.50 L800.5 735.00 L810.5 740.75 L819.5 750.75 L829.5 757.50 L839.5 764.00 L849.5 765.75 L858.5 765.00 L868.5 768.25 L878.5 771.50 L888.5 772.88 L898.5 774.00 L907.5 774.25 L917.5 774.25 L927.5 774.25 L937.5 773.50 L947.5 773.00 L956.5 771.25 L966.5 768.50 L976.5 763.25 L986.5 759.75 L996.5 757.50 L1005.5 754.25 L1015.5 753.25 L1025.5 752.75 L1035.5 752.00 L1044.5 751.00 L1054.5 746.50 L1064.5 740.75 L1074.5 737.00 L1084.5 740.25 L1093.5 733.50 L1103.5 733.25 L1113.5 722.75 L1123.5 711.50 L1133.5 699.50 L1142.5 687.50 L1152.5 678.25 L1162.5 670.00 L1172.5 661.50 L1182.5 653.25 L1191.5 644.50 L1201.5 634.00 L1211.5 623.75 L1221.5 618.25 L1231.5 616.75 L1240.5 615.50 L1250.5 615.00 L1260.5 615.00 L1270.5 615.25 L1279.5 614.00 L1289.5 613.25 L1299.5 613.25 L1309.5 613.62 L1319.5 613.75 L1328.5 614.38 L1338.5 616.25 L1348.5 620.25 L1358.5 624.50 L1368.5 630.00 L1377.5 639.00 L1387.5 646.50 L1397.5 655.00 L1407.5 662.75 L1417.5 675.25 L1426.5 690.00 L1436.5 699.00 L1446.5 705.75 L1456.5 713.25 L1466.5 710.00 L1475.5 707.00 L1485.5 704.50 L1495.5 703.00 L1505.5 702.00 L1514.5 695.75 L1524.5 688.25 L1534.5 682.00 L1544.5 675.00 L1554.5 669.00 L1563.5 665.00 L1573.5 660.75 L1583.5 657.00 L1593.5 652.00 L1603.5 645.75 L1612.5 640.75 L1622.5 636.50" stroke="#2962ff"/>
<path d="M-2.5 644.00 L7.5 639.00 L16.5 636.25 L26.5 632.75 L36.5 626.50 L46.5 622.75 L56.5 620.75 L65.5 617.75 L75.5 616.00 L85.5 613.25 L95.5 611.25 L105.5 610.75 L114.5 610.25 L124.5 610.25 L134.5 610.75 L144.5 611.25 L153.5 611.75 L163.5 612.50 L173.5 612.75 L183.5 613.25 L193.5 613.75 L202.5 614.50 L212.5 617.00 L222.5 620.25 L232.5 627.00 L242.5 633.75 L251.5 637.00 L261.5 640.75 L271.5 644.50 L281.5 647.00 L291.5 650.00 L300.5 653.25 L310.5 657.00 L320.5 660.00 L330.5 662.00 L340.5 665.75 L349.5 668.25 L359.5 671.50 L369.5 676.25 L379.5 680.00 L388.5 685.00 L398.5 687.00 L408.5 690.75 L418.5 695.75 L428.5 701.50 L437.5 706.25 L447.5 710.75 L457.5 713.75 L467.5 720.00 L477.5 725.00 L486.5 730.25 L496.5 728.75 L506.5 722.75 L516.5 717.50 L526.5 712.00 L535.5 704.50 L545.5 695.75 L555.5 687.00 L565.5 676.50 L575.5 669.50 L584.5 662.00 L594.5 655.75 L604.5 650.25 L614.5 645.25 L623.5 642.75 L633.5 646.50 L643.5 648.25 L653.5 650.00 L663.5 651.00 L672.5 649.00 L682.5 643.25 L692.5 635.75 L702.5 629.50 L712.5 627.00 L721.5 633.75 L731.5 643.25 L741.5 651.50 L751.5 662.00 L761.5 669.50 L770.5 676.50 L780.5 680.25 L790.5 683.25 L800.5 688.25 L810.5 695.75 L819.5 704.50 L829.5 709.50 L839.5 712.75 L849.5 716.25 L858.5 717.00 L868.5 720.75 L878.5 726.50 L888.5 733.00 L898.5 740.75 L907.5 743.75 L917.5 750.25 L927.5 755.00 L937.5 759.50 L947.5 762.50 L956.5 765.00 L966.5 766.50 L976.5 768.75 L986.5 769.50 L996.5 771.25 L1005.5 771.50 L1015.5 771.50 L1025.5 772.75 L1035.5 773.50 L1044.5 773.50 L1054.5 772.00 L1064.5 770.25 L1074.5 768.50 L1084.5 766.50 L1093.5 763.50 L1103.5 759.50 L1113.5 752.75 L1123.5 747.00 L1133.5 741.25 L1142.5 736.25 L1152.5 731.25 L1162.5 723.25 L1172.5 713.25 L1182.5 703.75 L1191.5 694.50 L1201.5 684.50 L1211.5 675.75 L1221.5 667.75 L1231.5 661.50 L1240.5 659.50 L1250.5 655.00 L1260.5 653.25 L1270.5 649.50 L1279.5 644.00 L1289.5 638.25 L1299.5 633.25 L1309.5 629.50 L1319.5 627.00 L1328.5 625.00 L1338.5 623.25 L1348.5 621.50 L1358.5 620.00 L1368.5 618.75 L1377.5 619.50 L1387.5 621.25 L1397.5 624.00 L1407.5 627.00 L1417.5 632.00 L1426.5 637.00 L1436.5 640.00 L1446.5 642.00 L1456.5 645.00 L1466.5 645.50 L1475.5 645.25 L1485.5 643.75 L1495.5 642.50 L1505.5 642.25 L1514.5 642.25 L1524.5 642.25 L1534.5 642.75 L1544.5 642.75 L1554.5 643.00 L1563.5 644.00 L1573.5 644.25 L1583.5 644.50 L1593.5 644.50 L1603.5 644.50 L1612.5 644.75 L1622.5 643.50" stroke="#4caf50"/>
</g>
<g shape-rendering="crispEdges" fill="#222222">
<rect x="1725" y="0" width="1" height="822"/>
<rect x="0" y="799" width="1801" height="1"/>
</g>
<g font-size="12" fill="#b2b5be">
<text transform="translate(1734.6 48.8) scale(0.95 1)">1.21000</text>
<text transform="translate(1734.6 82.8) scale(0.95 1)">1.20500</text>
<text transform="translate(1734.6 117.8) scale(0.95 1)">1.20000</text>
<text transform="translate(1734.6 151.8) scale(0.95 1)">1.19500</text>
<text transform="translate(1734.6 186.8) scale(0.95 1)">1.19000</text>
<text transform="translate(1734.6 221.8) scale(0.95 1)">1.18500</text>
<text transform="translate(1734.6 255.8) scale(0.95 1)">1.18000</text>
<text transform="translate(1734.6 290.8) scale(0.95 1)">1.17500</text>
<text transform="translate(1734.6 324.8) scale(0.95 1)">1.17000</text>
<text transform="translate(1734.6 359.8) scale(0.95 1)">1.16500</text>
<text transform="translate(1734.6 393.8) scale(0.95 1)">1.16000</text>
<text transform="translate(1734.6 428.8) scale(0.95 1)">1.15500</text>
<text transform="translate(1734.6 462.8) scale(0.95 1)">1.15000</text>
<text transform="translate(1734.6 497.8) scale(0.95 1)">1.14500</text>
<text transform="translate(1734.6 531.8) scale(0.95 1)">1.14000</text>
<text transform="translate(1734.6 566.8) scale(0.95 1)">1.13500</text>
<text transform="translate(1734.6 208.8) scale(0.93 1)" fill="#ffffff" font-weight="bold">1.18691</text>
<text transform="translate(1734.3 589.8) scale(0.963 1)">120.00000</text>
<text transform="translate(1734.3 626.5) scale(0.963 1)">80.00000</text>
<text transform="translate(1734.3 662.7) scale(0.963 1)">40.00000</text>
<text transform="translate(1734.3 699.5) scale(0.963 1)">0.00000</text>
<text transform="translate(1734.3 735.7) scale(0.963 1)">−40.00000</text>
<text transform="translate(1734.3 772.5) scale(0.963 1)">−80.00000</text>
</g>
<g font-size="12" fill="#b2b5be" text-anchor="middle">
<text x="26.5" y="817">7月</text>
<text x="251.5" y="817">8月</text>
<text x="457.5" y="817">9月</text>
<text x="672.5" y="817">10月</text>
<text x="898.5" y="817">11月</text>
<text x="1093.5" y="817">12月</text>
<text x="1319.5" y="817" font-weight="bold">2026</text>
<text x="1534.5" y="817">2月</text>
</g>
<rect x="1729.5" y="2.5" width="71" height="25" rx="3.5" fill="#0f0f0f" stroke="#4a4a4a"/>
<text transform="translate(1732.8 19) scale(0.82 1)" font-size="12.5" fill="#e6e6e6">USD</text>
<path d="M1790.9 14.4 l2.7 2.7 l2.7 -2.7" fill="none" stroke="#e6e6e6" stroke-width="1.4"/>
<g fill="none" stroke="#b2b5be" stroke-width="1.2"><path d="M1758.7 813.5 l3.4 -5.8 h6.8 l3.4 5.8 l-3.4 5.8 h-6.8 z"/><circle cx="1765.5" cy="813.5" r="2.4"/></g>
<g fill="#000" stroke="#000" stroke-width="3.6" stroke-linejoin="round"><path d="M10 770 h12 v15 h-6 v-9 h-6 z"/><circle cx="27" cy="773" r="3"/><path d="M33 770 h7 l-5.6 15 h-7.4 z"/></g>
<g fill="#dcdcdc"><path d="M10 770 h12 v15 h-6 v-9 h-6 z"/><circle cx="27" cy="773" r="3"/><path d="M33 770 h7 l-5.6 15 h-7.4 z"/></g>
<g>
<clipPath id="cus"><circle cx="19.5" cy="11.7" r="5.8"/></clipPath>
<g clip-path="url(#cus)"><rect x="13" y="5" width="13" height="13" fill="#ffffff"/>
<path d="M13 7.4 h13 M13 9.7 h13 M13 12 h13 M13 14.3 h13 M13 16.6 h13" stroke="#ee3b42" stroke-width="1.3" fill="none"/>
<rect x="13" y="5" width="7" height="7.6" fill="#3f7de0"/>
<path d="M15 8 h5 M14.5 9.8 h5.5 M14.5 11.4 h5.5" stroke="#9fc0f5" stroke-width="0.6" stroke-dasharray="0.7 1" fill="none"/></g>
<circle cx="13" cy="18" r="7" fill="#000"/>
<circle cx="13" cy="18" r="6" fill="#1b6cd2"/>
<circle cx="13" cy="18" r="3.4" fill="none" stroke="#f5d21f" stroke-width="1.1" stroke-dasharray="1.2 1.47"/>
<text y="21.3" font-size="16" fill="#c8cbd4"><tspan x="29.2">ユーロ／米ドル</tspan><tspan x="144.2" dy="-1">·</tspan><tspan x="180.7" dy="1">·</tspan></text>
<text transform="translate(153.5 21.3) scale(0.9 1)" font-size="16" fill="#c8cbd4">1日</text>
<text transform="translate(189.5 21.3) scale(0.88 1)" font-size="16" fill="#c8cbd4">Saxo</text>
<circle cx="238.8" cy="15" r="9" fill="#1c1c1c"/>
<rect x="233.3" y="13.2" width="11" height="3.6" rx="1.8" fill="#c8c8c8"/>
<rect x="6.5" y="31.5" width="31" height="20" rx="3" fill="#000" stroke="#3c3c3c"/>
<path d="M12.5 39.5 l4 4 l4 -4" fill="none" stroke="#d1d4dc" stroke-width="1.3"/>
<text x="25.8" y="45.9" font-size="12" fill="#d1d4dc">3</text>
<circle cx="63" cy="42" r="8.5" fill="#150a2e"/>
<g fill="none" stroke="#7c2cf5" stroke-width="1.6"><path d="M58.2 40.5 a5 5 0 0 1 9 -1.6"/><path d="M67.8 43.5 a5 5 0 0 1 -9 1.6"/></g>
<path d="M68.2 36.6 v3.2 h-3.2 z M57.8 47.4 v-3.2 h3.2 z" fill="#7c2cf5"/>
</g>
</svg></body></html>
